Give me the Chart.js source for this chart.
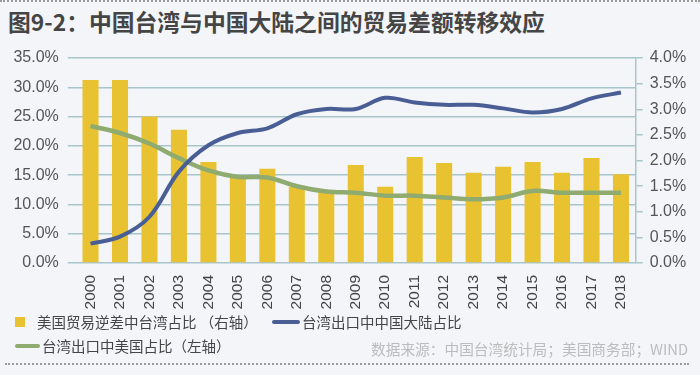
<!DOCTYPE html>
<html>
<head>
<meta charset="utf-8">
<script src="https://cdn.jsdelivr.net/npm/chart.js@4/dist/chart.umd.min.js"></script>
<style>
  html, body { margin: 0; padding: 0; }
  body { width: 700px; height: 375px; background: #f3f5f9; position: relative; overflow: hidden;
         font-family: "Noto Sans CJK SC", "Noto Sans", sans-serif; }
  #chart { position: absolute; left: 0; top: 0; }
  .dots { position: absolute; border-top: 2px dotted #9a9a9a; height: 0; }
  #title { position: absolute; left: 8px; top: 8px; font-size: 22.8px; font-weight: bold; color: #454545;
           white-space: nowrap; line-height: 28px; }
  .leg { position: absolute; font-size: 14.5px; color: #454545; white-space: nowrap; line-height: 18px; }
  .sq { position: absolute; width: 10px; height: 10px; background: #e9c232; }
  .ln { position: absolute; height: 4px; border-radius: 2px; }
  #src { position: absolute; right: 12px; top: 338px; font-size: 14.7px; color: #bcbcbc; white-space: nowrap; }
</style>
</head>
<body>
<div class="dots" style="left:0; width:700px; top:0;"></div>
<div id="title">图9-2：中国台湾与中国大陆之间的贸易差额转移效应</div>
<canvas id="chart" width="700" height="375"></canvas>

<div class="sq" style="left:15px; top:317px;"></div>
<div class="leg" style="left:37px; top:313px;">美国贸易逆差中台湾占比 （右轴）</div>
<div class="ln" style="left:272px; top:320px; width:28px; background:#4a5e96;"></div>
<div class="leg" style="left:302px; top:313px;">台湾出口中中国大陆占比</div>
<div class="ln" style="left:15px; top:344px; width:25px; background:#8fab6f;"></div>
<div class="leg" style="left:42px; top:337px;">台湾出口中美国占比（左轴）</div>
<div id="src">数据来源：中国台湾统计局；美国商务部；WIND</div>
<div class="dots" style="left:5px; width:684px; top:363px;"></div>

<script>
document.addEventListener('DOMContentLoaded', function () {

  // categories
  const years = ['2000', '2001', '2002', '2003', '2004', '2005', '2006', '2007', '2008', '2009',
                 '2010', '2011', '2012', '2013', '2014', '2015', '2016', '2017', '2018'];

  // bars, right axis (%)
  const usDeficitTaiwanShare = [3.57, 3.57, 2.86, 2.60, 1.97, 1.68, 1.84, 1.49, 1.39, 1.91,
                                1.49, 2.07, 1.95, 1.76, 1.88, 1.97, 1.76, 2.05, 1.73];

  // lines, left axis (%)
  const exportMainlandShare = [3.3, 4.5, 7.9, 15.6, 20.1, 22.2, 23.0, 25.4, 26.3, 26.3,
                               28.2, 27.4, 27.0, 27.0, 26.4, 25.7, 26.3, 28.1, 29.1];
  const exportUsShare = [23.4, 22.2, 20.4, 17.9, 15.8, 14.7, 14.6, 13.1, 12.2, 12.0,
                         11.5, 11.5, 11.2, 10.9, 11.2, 12.3, 12.0, 12.0, 12.0];

  // axis ranges / ticks
  const leftTicks = [0, 5, 10, 15, 20, 25, 30, 35];
  const rightTicks = [0, 0.5, 1, 1.5, 2, 2.5, 3, 3.5, 4];

  const gridColor = '#a8c5cc';
  const tickFont = { family: 'Liberation Sans', size: 16 };

  const ctx = document.getElementById('chart').getContext('2d');

  new Chart(ctx, {
    type: 'bar',
    data: {
      labels: years,
      datasets: [
        {
          type: 'line',
          label: '台湾出口中中国大陆占比',
          data: exportMainlandShare,
          yAxisID: 'yL',
          borderColor: '#4a5e96',
          borderWidth: 4,
          tension: 0.35,
          pointRadius: 0,
          fill: false,
          order: 0
        },
        {
          type: 'line',
          label: '台湾出口中美国占比（左轴）',
          data: exportUsShare,
          yAxisID: 'yL',
          borderColor: '#8fab6f',
          borderWidth: 4.5,
          tension: 0.35,
          pointRadius: 0,
          fill: false,
          order: 1
        },
        {
          label: '美国贸易逆差中台湾占比（右轴）',
          data: usDeficitTaiwanShare,
          yAxisID: 'yR',
          backgroundColor: '#e9c232',
          categoryPercentage: 1,
          barPercentage: 0.545,
          order: 2
        }
      ]
    },
    options: {
      responsive: false,
      animation: false,
      layout: { padding: { top: 58, bottom: 62, left: 0, right: 0 } },
      scales: {
        x: {
          grid: { display: false },
          border: { display: false },
          ticks: {
            autoSkip: false, minRotation: 90, maxRotation: 90, padding: 4,
            color: '#444', font: { family: 'Liberation Sans', size: 15.5 }
          },
          afterFit: function (s) { s.height = 50; }
        },
        yL: {
          position: 'left',
          min: 0, max: 35,
          afterBuildTicks: function (s) { s.ticks = leftTicks.map(v => ({ value: v })); },
          grid: { color: gridColor, lineWidth: 1.5, tickLength: 8 },
          border: { display: false },
          ticks: {
            padding: 9, color: '#555', font: tickFont,
            callback: v => v.toFixed(1) + '%'
          },
          afterFit: function (s) { s.width = 75.8; }
        },
        yR: {
          position: 'right',
          min: 0, max: 4,
          afterBuildTicks: function (s) { s.ticks = rightTicks.map(v => ({ value: v })); },
          grid: { drawOnChartArea: false, color: gridColor, lineWidth: 1.5, tickLength: 7 },
          border: { display: true, color: gridColor, width: 1.5 },
          ticks: {
            padding: 7, color: '#555', font: tickFont,
            callback: v => v.toFixed(1) + '%'
          },
          afterFit: function (s) { s.width = 64.3; }
        }
      },
      plugins: {
        legend: { display: false },
        tooltip: { enabled: false }
      }
    }
  });

});
</script>
</body>
</html>
